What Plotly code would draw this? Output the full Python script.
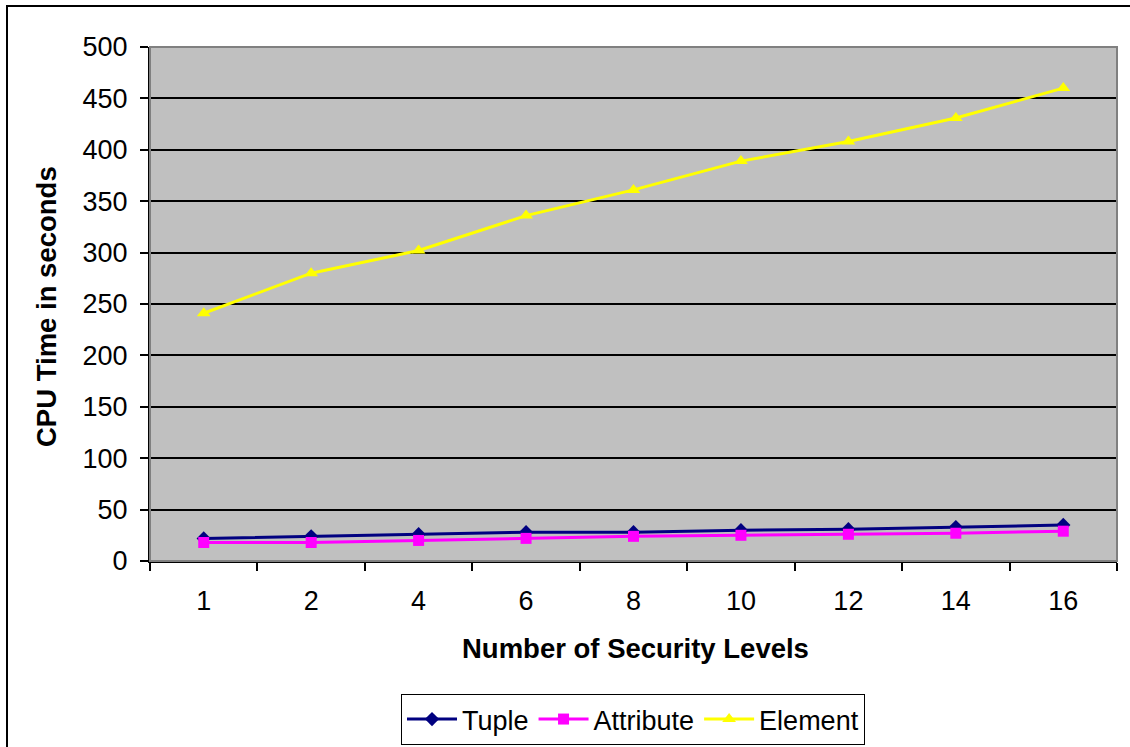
import plotly.graph_objects as go

# Number of security levels (category axis)
levels = ["1", "2", "4", "6", "8", "10", "12", "14", "16"]

# CPU time in seconds for each granularity
tuple_time = [22, 24, 26, 28, 28, 30, 31, 33, 35]
attribute_time = [18, 18, 20, 22, 24, 25, 26, 27, 29]
element_time = [241, 280, 302, 336, 361, 389, 408, 431, 460]

y_ticks = list(range(0, 501, 50))

FONT = "Liberation Sans, Arial, sans-serif"

fig = go.Figure()
fig.add_trace(go.Scatter(
    x=levels, y=tuple_time, name="Tuple", mode="lines+markers",
    line=dict(color="#000080", width=3),
    marker=dict(symbol="diamond", size=11, color="#000080"),
))
fig.add_trace(go.Scatter(
    x=levels, y=attribute_time, name="Attribute", mode="lines+markers",
    line=dict(color="#FF00FF", width=3),
    marker=dict(symbol="square", size=11, color="#FF00FF"),
))
fig.add_trace(go.Scatter(
    x=levels, y=element_time, name="Element", mode="lines+markers",
    line=dict(color="#FFFF00", width=3),
    marker=dict(symbol="triangle-up", size=12, color="#FFFF00"),
))

L, R, T, B = 150, 13, 47, 186
W, H = 1130, 747
pw, ph = W - L - R, H - T - B


def px_x(x):
    return (x - L) / pw


def px_y(y):
    return (H - B - y) / ph


fig.update_layout(
    width=W, height=H,
    margin=dict(l=L, r=R, t=T, b=B, autoexpand=False),
    paper_bgcolor="white",
    plot_bgcolor="#C0C0C0",
    font=dict(family=FONT, color="black", size=27),
    showlegend=True,
    legend=dict(
        orientation="h", x=px_x(633), xanchor="center",
        y=px_y(694), yanchor="top",
        bgcolor="white", bordercolor="black", borderwidth=1,
        font=dict(size=27, family=FONT), itemwidth=50,
        tracegroupgap=0,
    ),
    xaxis=dict(
        type="category", categoryorder="array", categoryarray=levels,
        showgrid=False, showline=True, linecolor="black", linewidth=2,
        ticks="outside", tickson="boundaries", ticklen=8, tickwidth=2,
        tickcolor="black", ticklabelstandoff=15,
        tickfont=dict(size=27), zeroline=False, mirror=False,
        range=[-0.5, len(levels) - 0.5],
    ),
    yaxis=dict(
        range=[0, 500], tickvals=y_ticks, showgrid=True,
        gridcolor="black", gridwidth=2,
        showline=True, linecolor="black", linewidth=2,
        ticks="outside", ticklen=8, tickwidth=2, tickcolor="black",
        ticklabelstandoff=7, tickfont=dict(size=27), zeroline=False,
    ),
    shapes=[
        # grey frame around the plotting area (top and right edges)
        dict(type="rect", xref="paper", yref="paper", x0=0, x1=1, y0=0, y1=1,
             line=dict(color="#808080", width=2), fillcolor="rgba(0,0,0,0)",
             layer="above"),
        # outer chart frame
        dict(type="rect", xref="paper", yref="paper",
             x0=px_x(7), x1=px_x(1140), y0=px_y(760), y1=px_y(6),
             line=dict(color="black", width=2), fillcolor="rgba(0,0,0,0)"),
    ],
    annotations=[
        dict(text="<b>Number of Security Levels</b>", xref="paper", yref="paper",
             x=px_x(635), y=px_y(648), xanchor="center", yanchor="middle",
             showarrow=False, font=dict(size=27.5, family=FONT)),
        dict(text="<b>CPU Time in seconds</b>", xref="paper", yref="paper",
             x=px_x(46), y=px_y(307), xanchor="center", yanchor="middle",
             textangle=-90, showarrow=False, font=dict(size=27.5, family=FONT)),
    ],
)

fig.write_html("out.html")
